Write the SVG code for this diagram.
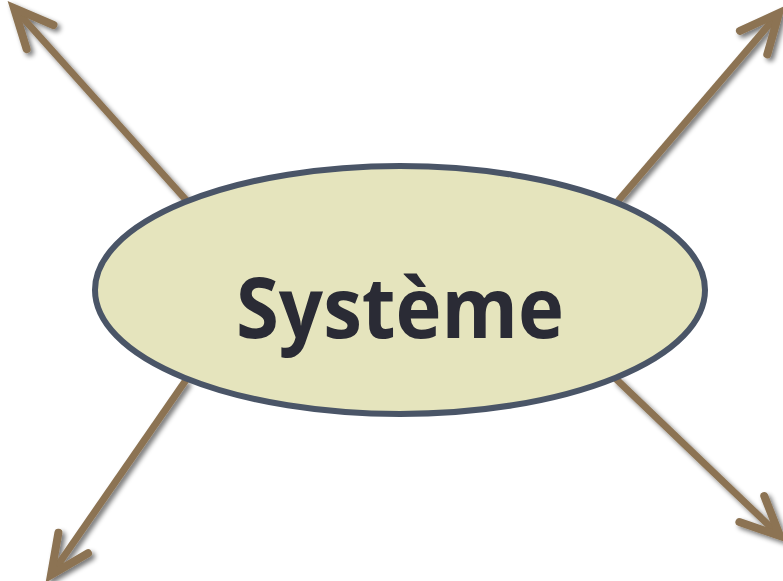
<svg xmlns="http://www.w3.org/2000/svg" width="783" height="581" viewBox="0 0 783 581">
  <defs>
    <filter id="shadow" x="-20%" y="-20%" width="140%" height="140%">
      <feGaussianBlur in="SourceAlpha" stdDeviation="2.5"/>
      <feOffset dx="3" dy="3" result="b"/>
      <feComponentTransfer><feFuncA type="linear" slope="0.55"/></feComponentTransfer>
      <feMerge><feMergeNode/><feMergeNode in="SourceGraphic"/></feMerge>
    </filter>
    <marker id="head" markerUnits="userSpaceOnUse" viewBox="-50 -30 60 60" refX="0" refY="0" markerWidth="60" markerHeight="60" orient="auto" overflow="visible">
      <path d="M-39,-18 L0,0 L-39,18" fill="none" stroke="#8c7352" stroke-width="8" stroke-linecap="round" stroke-linejoin="miter"/>
    </marker>
  </defs>
  <style>
    .conn { stroke: #8c7352; stroke-width: 7; fill: none; marker-end: url(#head); filter: url(#shadow); }
    .node { fill: #e5e4bd; stroke: #4a5567; stroke-width: 6; }
    .label { font-family: "Open Sans", "Liberation Sans", sans-serif; font-weight: bold; font-size: 84px; fill: #2a2b35; text-anchor: middle; }
  </style>
  <g id="connectors">
    <line class="conn" x1="187" y1="201" x2="14" y2="8"/>
    <line class="conn" x1="618" y1="201" x2="779" y2="13"/>
    <line class="conn" x1="186" y1="380" x2="51" y2="575"/>
    <line class="conn" x1="615" y1="378" x2="780" y2="536"/>
  </g>
  <g id="systeme">
    <ellipse class="node" cx="400" cy="290" rx="305" ry="124"/>
    <text class="label" x="400" y="338" textLength="328" lengthAdjust="spacingAndGlyphs">Système</text>
  </g>
</svg>
